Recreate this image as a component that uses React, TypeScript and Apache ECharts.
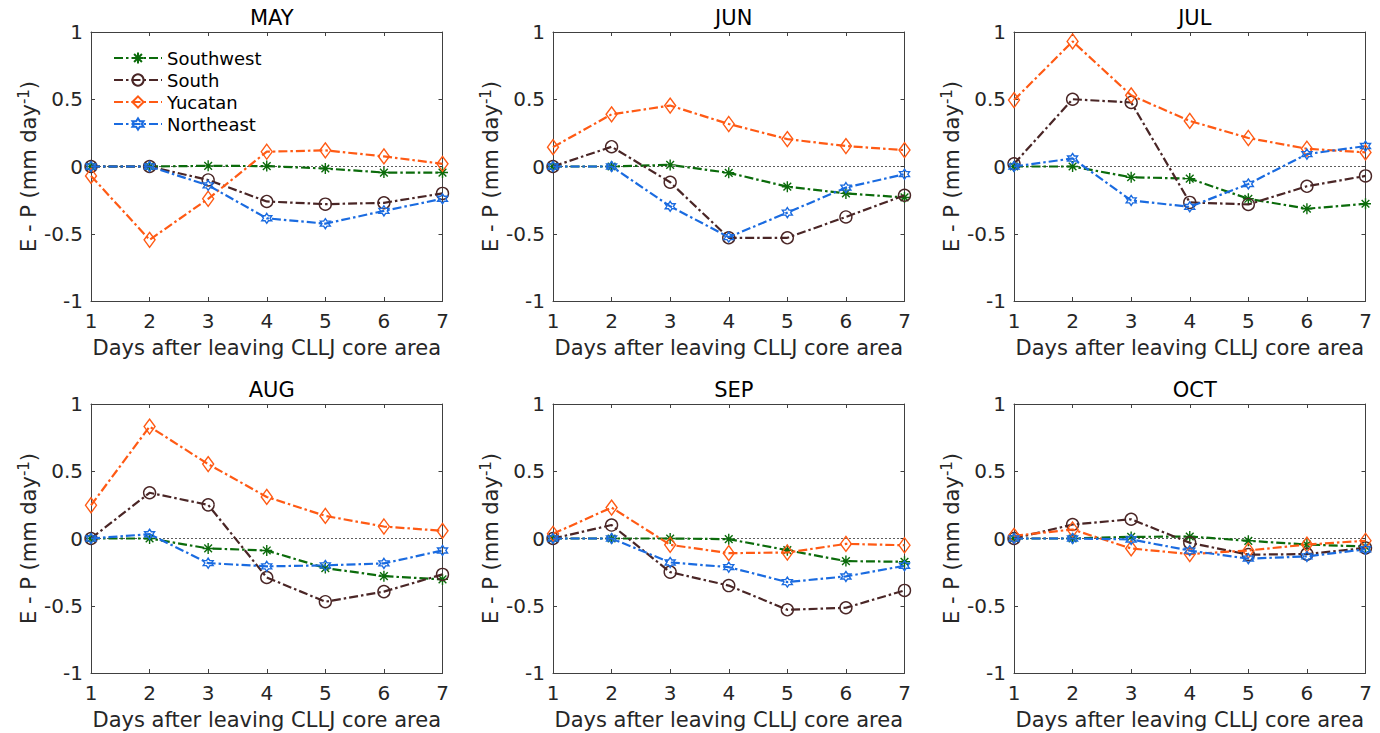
import React, { useEffect, useRef } from "react";
import * as echarts from "echarts";

const days = [1, 2, 3, 4, 5, 6, 7];
const regions = ["Southwest", "South", "Yucatan", "Northeast"];
const months = ["MAY", "JUN", "JUL", "AUG", "SEP", "OCT"];
const yTicks = [-1, -0.5, 0, 0.5, 1];

const maySouthwest = [0, 0, 0.005, 0.003, -0.015, -0.045, -0.045];
const maySouth = [0, 0, -0.1, -0.26, -0.28, -0.27, -0.2];
const mayYucatan = [-0.07, -0.545, -0.24, 0.11, 0.12, 0.075, 0.02];
const mayNortheast = [0, 0, -0.14, -0.385, -0.425, -0.33, -0.24];

const junSouthwest = [0, 0, 0.012, -0.047, -0.15, -0.2, -0.23];
const junSouth = [0, 0.147, -0.117, -0.53, -0.53, -0.375, -0.214];
const junYucatan = [0.144, 0.388, 0.453, 0.316, 0.204, 0.152, 0.122];
const junNortheast = [0, 0, -0.296, -0.525, -0.343, -0.157, -0.057];

const julSouthwest = [0, 0, -0.08, -0.09, -0.24, -0.314, -0.277];
const julSouth = [0.02, 0.5, 0.476, -0.267, -0.282, -0.147, -0.07];
const julYucatan = [0.494, 0.93, 0.529, 0.339, 0.212, 0.132, 0.105];
const julNortheast = [0, 0.06, -0.252, -0.3, -0.13, 0.092, 0.152];

const augSouthwest = [0, 0, -0.074, -0.089, -0.22, -0.28, -0.304];
const augSouth = [0, 0.34, 0.25, -0.29, -0.47, -0.395, -0.267];
const augYucatan = [0.247, 0.832, 0.553, 0.309, 0.168, 0.089, 0.057];
const augNortheast = [0, 0.032, -0.183, -0.207, -0.2, -0.185, -0.089];

const sepSouthwest = [0, 0, 0, -0.005, -0.087, -0.168, -0.173];
const sepSouth = [0, 0.1, -0.25, -0.35, -0.53, -0.515, -0.386];
const sepYucatan = [0.035, 0.23, -0.047, -0.109, -0.104, -0.04, -0.05];
const sepNortheast = [0, 0, -0.178, -0.213, -0.324, -0.282, -0.203];

const octSouthwest = [0, 0, 0.012, 0.015, -0.017, -0.045, -0.06];
const octSouth = [0, 0.104, 0.143, -0.032, -0.12, -0.116, -0.07];
const octYucatan = [0.02, 0.067, -0.074, -0.116, -0.089, -0.045, -0.017];
const octNortheast = [0, 0, -0.007, -0.09, -0.15, -0.133, -0.08];

const monthData = [
  [maySouthwest, maySouth, mayYucatan, mayNortheast],
  [junSouthwest, junSouth, junYucatan, junNortheast],
  [julSouthwest, julSouth, julYucatan, julNortheast],
  [augSouthwest, augSouth, augYucatan, augNortheast],
  [sepSouthwest, sepSouth, sepYucatan, sepNortheast],
  [octSouthwest, octSouth, octYucatan, octNortheast],
];

const colors = ["#0b6b0b", "#4a2626", "#ff5a14", "#1a6be0"];

function hexagramPath(): string {
  const pts: string[] = [];
  for (let k = 0; k < 12; k++) {
    const a = (-90 + k * 30) * (Math.PI / 180);
    const r = k % 2 === 0 ? 10 : 5.77;
    pts.push(`${(r * Math.cos(a)).toFixed(2)},${(r * Math.sin(a)).toFixed(2)}`);
  }
  return "path://M" + pts.join("L") + "Z";
}

const symbols = [
  "path://M0,-10L0,10M-10,0L10,0M-7,-7L7,7M-7,7L7,-7",
  "circle",
  "diamond",
  hexagramPath(),
];
const symbolSizes: any[] = [11, 12, [11, 15], 10];

const FONT = "DejaVu Sans";
const AXIS_COLOR = "#404040";
const TEXT_COLOR = "#262626";

export default function App() {
  const ref = useRef<HTMLDivElement>(null);

  useEffect(() => {
    if (!ref.current) return;
    const chart = echarts.init(ref.current, undefined, { renderer: "svg" });

    const lefts = [91, 553, 1014];
    const tops = [32, 404];
    const gw = 351.5;
    const gh = 269;

    const grids: any[] = [];
    const xAxes: any[] = [];
    const yAxes: any[] = [];
    const titles: any[] = [];
    const series: any[] = [];

    months.forEach((m, i) => {
      const col = i % 3;
      const row = Math.floor(i / 3);
      const left = lefts[col];
      const top = tops[row];
      grids.push({ left, top, width: gw, height: gh, show: false });
      titles.push({
        text: m,
        left: left + gw / 2,
        top: top - 30,
        textAlign: "center",
        textStyle: { fontFamily: FONT, fontSize: 21, fontWeight: "normal", color: "#000" },
      });
      const baseX = {
        type: "value",
        gridIndex: i,
        min: 1,
        max: 7,
        interval: 1,
        splitLine: { show: false },
        axisLine: { show: true, onZero: false, lineStyle: { color: AXIS_COLOR, width: 1 } },
        axisTick: { show: true, inside: true, length: 4, lineStyle: { color: AXIS_COLOR } },
      };
      xAxes.push({
        ...baseX,
        position: "bottom",
        axisLabel: { fontFamily: FONT, fontSize: 20, color: TEXT_COLOR, margin: 10 },
        name: "Days after leaving CLLJ core area",
        nameLocation: "middle",
        nameGap: 36,
        nameTextStyle: { fontFamily: FONT, fontSize: 21, color: TEXT_COLOR },
      });
      xAxes.push({ ...baseX, position: "top", axisLabel: { show: false } });
      const baseY = {
        type: "value",
        gridIndex: i,
        min: -1,
        max: 1,
        interval: 0.5,
        splitLine: { show: false },
        axisLine: { show: true, onZero: false, lineStyle: { color: AXIS_COLOR, width: 1 } },
        axisTick: { show: true, inside: true, length: 4, lineStyle: { color: AXIS_COLOR } },
      };
      yAxes.push({
        ...baseY,
        position: "left",
        axisLabel: {
          fontFamily: FONT,
          fontSize: 20,
          color: TEXT_COLOR,
          margin: 8,
          formatter: (v: number) => (yTicks.includes(v) ? String(v) : ""),
        },
        name: "E - P (mm day{sup|-1})",
        nameLocation: "middle",
        nameGap: 50,
        nameTextStyle: {
          fontFamily: FONT,
          fontSize: 21,
          color: TEXT_COLOR,
          rich: {
            sup: { fontFamily: FONT, fontSize: 15, color: TEXT_COLOR, verticalAlign: "top", padding: [0, 0, 10, 0] },
          },
        },
      });
      yAxes.push({ ...baseY, position: "right", axisLabel: { show: false } });

      monthData[i].forEach((vals, s) => {
        const ser: any = {
          type: "line",
          name: regions[s],
          xAxisIndex: i * 2,
          yAxisIndex: i * 2,
          data: days.map((d, k) => [d, vals[k]]),
          symbol: symbols[s],
          symbolSize: symbolSizes[s],
          showAllSymbol: true,
          lineStyle: { color: colors[s], width: 2.2, type: [9, 3, 2.5, 3] },
          itemStyle: { color: "rgba(255,255,255,0)", borderColor: colors[s], borderWidth: 1.4 },
          emphasis: { disabled: true },
          z: 3 + s,
        };
        if (s === 0) {
          ser.markLine = {
            silent: true,
            symbol: "none",
            label: { show: false },
            lineStyle: { color: "#333", width: 0.8, type: [2, 2] },
            data: [{ yAxis: 0 }],
            z: 1,
          };
        }
        series.push(ser);
      });
    });

    chart.setOption({
      animation: false,
      backgroundColor: "#fff",
      title: titles,
      grid: grids,
      xAxis: xAxes,
      yAxis: yAxes,
      legend: {
        data: regions,
        orient: "vertical",
        left: 108,
        top: 44,
        itemWidth: 48,
        itemHeight: 14,
        itemGap: 4,
        textStyle: { fontFamily: FONT, fontSize: 18, color: "#000" },
        selectedMode: false,
      },
      series,
    });

    return () => chart.dispose();
  }, []);

  return (
    <div
      ref={ref}
      style={{ position: "fixed", left: 0, top: 0, width: 1380, height: 733, background: "#fff" }}
    />
  );
}
